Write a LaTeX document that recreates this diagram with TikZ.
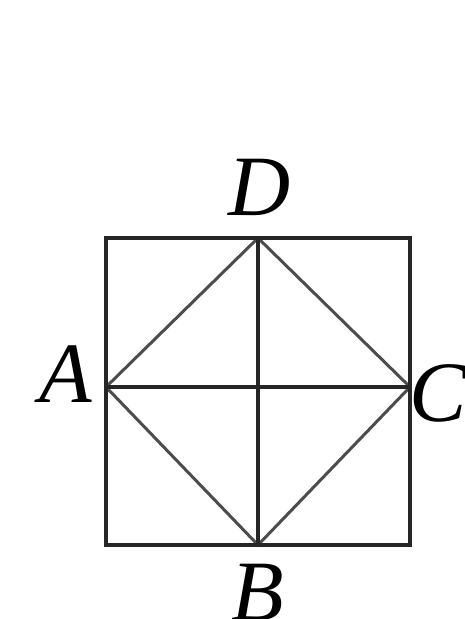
\documentclass[tikz,border=0pt]{standalone}
\usepackage{fontspec}
\setmainfont{Liberation Serif}
\begin{document}
\begin{tikzpicture}[x=1pt,y=-1pt,
  frame/.style={line width=4pt,black!85},
  diag/.style={line width=3pt,black!70},
  lab/.style={font=\fontsize{86}{86}\selectfont\itshape,inner sep=0pt,anchor=base}]
\useasboundingbox (0,0) rectangle (464,619);
\coordinate (TL) at (106,238);
\coordinate (TR) at (410,238);
\coordinate (BR) at (410,545);
\coordinate (BL) at (106,545);
\coordinate (D) at (258,238);
\coordinate (B) at (258,545);
\coordinate (A) at (106,387);
\coordinate (C) at (410,387);
\draw[diag] (A) -- (D) -- (C) -- (B) -- cycle;
\draw[frame] (D) -- (B);
\draw[frame] (A) -- (C);
\draw[frame] (TL) rectangle (BR);
\node[lab] (lD) at (260,215) {D};
\node[lab] (lA) at (66,402) {A};
\node[lab] (lC) at (438,421) {C};
\node[lab] (lB) at (258,620) {B};
\end{tikzpicture}
\end{document}
